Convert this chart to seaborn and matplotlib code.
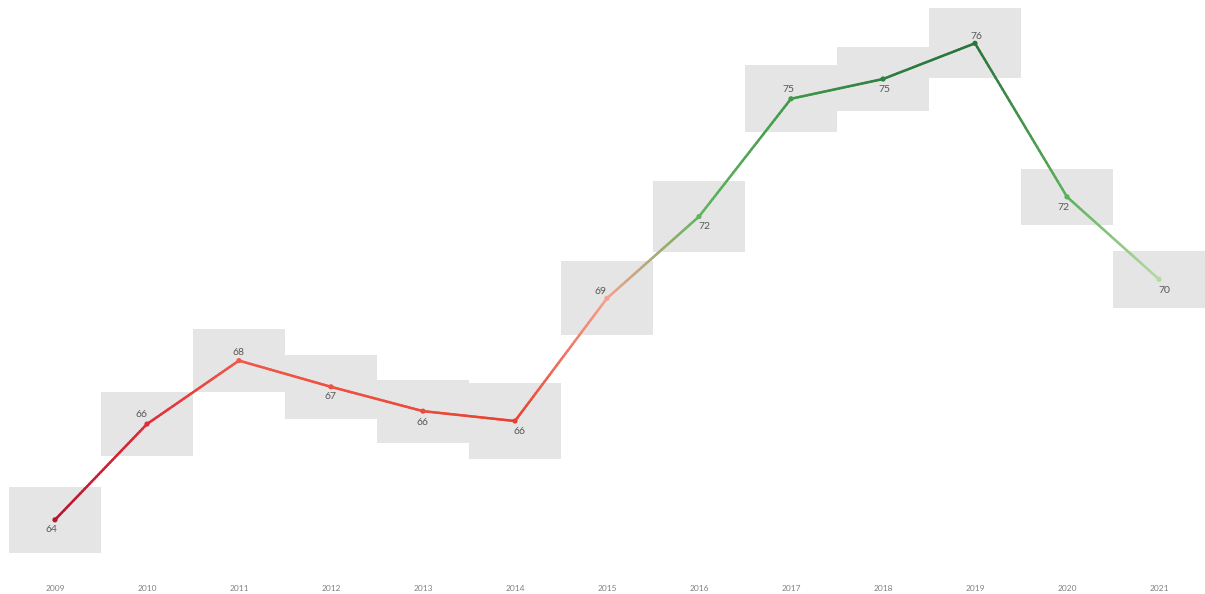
import numpy as np
import pandas as pd
import matplotlib
matplotlib.use("Agg")
import matplotlib.pyplot as plt
from matplotlib.collections import LineCollection
from matplotlib.colors import to_rgb
import seaborn as sns

# ---- data -------------------------------------------------------------
years = [2009, 2010, 2011, 2012, 2013, 2014, 2015,
         2016, 2017, 2018, 2019, 2020, 2021]
scores = [63.61, 66.13, 67.80, 67.11, 66.47, 66.21, 69.44,
          71.59, 74.69, 75.21, 76.15, 72.11, 69.94]
# half-height of the shaded range around each yearly score
spread = [0.86, 0.84, 0.83, 0.84, 0.83, 1.00, 0.97,
          0.93, 0.88, 0.83, 0.92, 0.74, 0.75]

# ---- styling ----------------------------------------------------------
point_colors = ["#b5152d", "#de2c38", "#f0584a", "#ef5040", "#ec4a3c",
                "#e8402f", "#f6a08e", "#62b55f", "#3f9a4b", "#2f7f40",
                "#2a733b", "#5cb05a", "#b5dba3"]
# label offsets in pixels (dx, dy); positive dy places the label above
label_offsets = [(-4, -10), (-5, 10), (0, 8), (0, -10), (0, -11),
                 (5, -10), (-6, 7), (5, -10), (-3, 9), (1, -10),
                 (1, 7), (-4, -11), (5, -11)]

sns.set_theme(style="white")
plt.rcParams["font.family"] = ["Lato", "DejaVu Sans"]

df = pd.DataFrame({"year": years, "score": scores, "spread": spread})
df["pos"] = np.arange(len(df))

W, H = 1205, 594
fig = plt.figure(figsize=(W / 100, H / 100), dpi=100)
ax = fig.add_axes([0, 17 / H, 1, 577 / H])

# shaded range boxes, one category wide
ax.bar(df["pos"], 2 * df["spread"], bottom=df["score"] - df["spread"],
       width=1.0, color="#e5e5e5", linewidth=0, zorder=1)

# gradient line between consecutive points
segs, cols = [], []
n_sub = 40
for i in range(len(df) - 1):
    x0, x1 = df["pos"][i], df["pos"][i + 1]
    y0, y1 = df["score"][i], df["score"][i + 1]
    c0, c1 = np.array(to_rgb(point_colors[i])), np.array(to_rgb(point_colors[i + 1]))
    t = np.linspace(0, 1, n_sub + 1)
    xs = x0 + (x1 - x0) * t
    ys = y0 + (y1 - y0) * t
    for k in range(n_sub):
        segs.append([(xs[k], ys[k]), (xs[k + 1], ys[k + 1])])
        tm = (t[k] + t[k + 1]) / 2
        cols.append(c0 + (c1 - c0) * tm)
lc = LineCollection(segs, colors=cols, linewidths=1.8, capstyle="round", zorder=3)
ax.add_collection(lc)

sns.scatterplot(data=df, x="pos", y="score", hue="year",
                palette=point_colors, s=14, linewidth=0, legend=False,
                ax=ax, zorder=4)

# value labels
for i, row in df.iterrows():
    dx, dy = label_offsets[i]
    ax.annotate(f"{row['score']:.0f}", (row["pos"], row["score"]),
                xytext=(dx, dy), textcoords="offset pixels",
                ha="center", va="center", fontsize=7.5, color="#595959",
                zorder=5)

# axis ranges: 92.4 px per category, 38 px per score point
px_per_cat = 92.42
ax.set_xlim(-0.5 - 9 / px_per_cat, 12 + 41 / px_per_cat)
ax.set_ylim(66.5 - 167 / 38, 66.5 + 410 / 38)

ax.set_xticks(df["pos"])
ax.set_xticklabels(years, fontsize=6, color="#808080")
ax.set_xticks(np.arange(-0.5, len(df), 1.0), minor=True)
ax.tick_params(axis="x", which="major", length=0, pad=6)
ax.tick_params(axis="x", which="minor", length=4, width=0.6,
               color="#eeeeee", direction="out")
ax.set_yticks([])
ax.set_xlabel("")
ax.set_ylabel("")
for sp in ax.spines.values():
    sp.set_visible(False)
ax.patch.set_alpha(0)

fig.savefig("out.png", dpi=100)
